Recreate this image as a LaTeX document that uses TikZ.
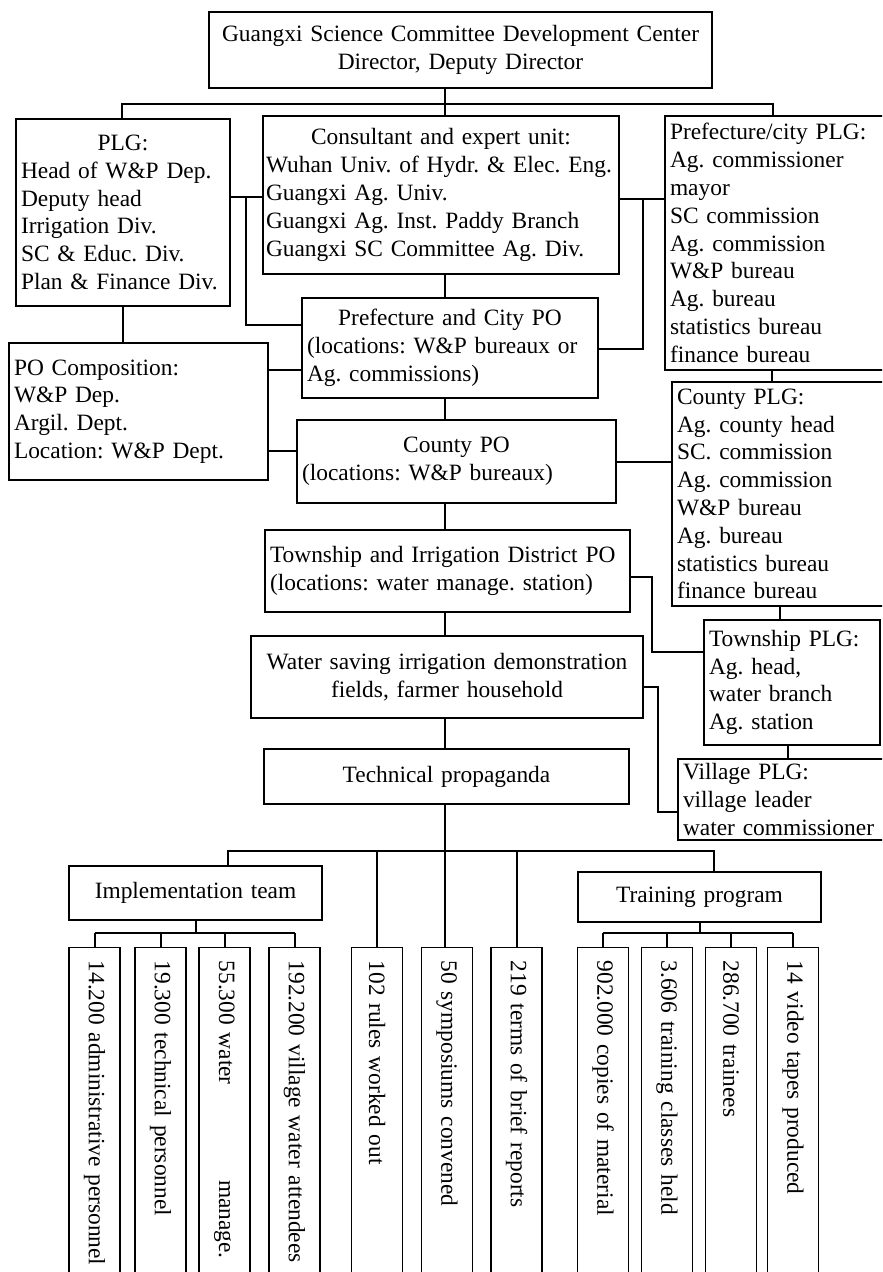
\documentclass[tikz,border=0pt]{standalone}
\usepackage{fontspec}
\setmainfont{Liberation Serif}
\usepackage{tikz}
\frenchspacing

\begin{document}
\begin{tikzpicture}[x=0.5pt,y=-0.5pt,font=\fontsize{11.7pt}{13.9pt}\selectfont,
    box/.style={draw,line width=.6pt,inner xsep=2.5pt,inner ysep=0pt},
    vbox/.style={box,rotate=-90,anchor=west,minimum height=25.5pt,inner xsep=6.5pt,text width=162pt,align=left},
    tie/.style={line width=.6pt},bus/.style={line width=1pt}]
    \useasboundingbox (0,0) rectangle (882,1272);
    \clip (0,0) rectangle (882,1272);
    % main column
    \node[box,text width=246.5pt,minimum height=38pt,align=center] (top) at (460.5,50)
        {Guangxi Science Committee Development Center\\Director, Deputy Director};
    \node[box,text width=102pt,minimum height=93.5pt,align=left] (plg) at (123,212.5)
        {\makebox[\hsize]{PLG:}\\Head of W\&P Dep.\\Deputy head\\Irrigation Div.\\SC \& Educ. Div.\\Plan \& Finance Div.};
    \node[box,inner xsep=1.5pt,text width=175pt,minimum height=79pt,align=left] (expert) at (441,195)
        {\makebox[\hsize]{Consultant and expert unit:}\\Wuhan Univ. of Hydr. \& Elec. Eng.\\Guangxi Ag. Univ.\\Guangxi Ag. Inst. Paddy Branch\\Guangxi SC Committee Ag. Div.};
    \node[box,text width=115pt,minimum height=127pt,align=left] (cityplg) at (785,243)
        {Prefecture/city PLG:\\Ag. commissioner\\mayor\\SC commission\\Ag. commission\\W\&P bureau\\Ag. bureau\\statistics bureau\\finance bureau};
    \node[box,text width=143pt,minimum height=50pt,align=left] (citypo) at (450,348)
        {\makebox[\hsize]{Prefecture and City PO}\\(locations: W\&P bureaux or\\Ag. commissions)};
    \node[box,text width=124.5pt,minimum height=68.5pt,align=left] (pocomp) at (138.5,411.5)
        {PO Composition:\\W\&P Dep.\\Argil. Dept.\\Location: W\&P Dept.\\};
    \node[box,text width=154.5pt,minimum height=41.5pt,align=left] (countypo) at (456.5,461.5)
        {\makebox[\hsize]{County PO}\\(locations: W\&P bureaux)};
    \node[box,text width=111.5pt,minimum height=112pt,align=left] (countyplg) at (788.5,494)
        {County PLG:\\Ag. county head\\SC. commission\\Ag. commission\\W\&P bureau\\Ag. bureau\\statistics bureau\\finance bureau};
    \node[box,text width=177.5pt,minimum height=41pt,align=left] (townpo) at (447.5,571)
        {Township and Irrigation District PO\\(locations: water manage. station)};
    \node[box,text width=83pt,minimum height=62.5pt,align=left] (townplg) at (792,682.5)
        {Township PLG:\\Ag. head,\\water branch\\Ag. station};
    \node[box,text width=191pt,minimum height=41pt,align=center] (demo) at (447,677)
        {Water saving irrigation demonstration\\fields, farmer household};
    \node[box,text width=108.5pt,minimum height=40.5pt,align=left] (villplg) at (791.5,799.5)
        {Village PLG:\\village leader\\water commissioner};
    \node[box,text width=177.5pt,minimum height=27.5pt,align=center] (tech) at (446.5,776.5) {Technical propaganda};
    \node[box,text width=121.5pt,minimum height=27pt,align=center] (impl) at (195.5,893) {Implementation team};
    \node[box,text width=116.5pt,minimum height=25pt,align=center] (train) at (699.5,897) {Training program};
    \foreach \n/\x/\txt in {1/94.5/{14.200 administrative personnel},2/160.5/{19.300 technical personnel},
        3/224.5/{\makebox[149pt][l]{55.300 water\hfill manage.}},4/294.5/{192.200 village water attendees},
        5/377/{102 rules worked out},6/447/{50 symposiums convened},7/516.5/{219 terms of brief reports},
        8/603/{902.000 copies of material},9/667/{3.606 training classes held},10/731/{286.700 trainees},
        11/793/{14 video tapes produced}}
        \node[vbox] (b\n) at (\x,947) {\txt};
    % spine
    \coordinate (sp) at (445,0);
    \draw[tie] (top.south -| sp) -- (expert.north -| sp);
    \draw[tie] (expert.south -| sp) -- (citypo.north -| sp);
    \draw[tie] (citypo.south -| sp) -- (countypo.north -| sp);
    \draw[tie] (countypo.south -| sp) -- (townpo.north -| sp);
    \draw[tie] (townpo.south -| sp) -- (demo.north -| sp);
    \draw[tie] (demo.south -| sp) -- (tech.north -| sp);
    \draw[tie] (tech.south -| sp) -- (b6.west -| sp);
    % upper branches
    \coordinate (tl) at (122,104); \coordinate (tr) at (773,104);
    \draw[bus] (plg.north -| tl) -- (tl) -- (tr) -- (cityplg.north -| tr);
    \coordinate (a1) at (246,197); \coordinate (a2) at (246,325);
    \draw[bus] (plg.east |- a1) -- (expert.west |- a1);
    \draw[bus] (a1) -- (a2) -- (citypo.west |- a2);
    \coordinate (a3) at (643,199); \coordinate (a4) at (643,349);
    \draw[bus] (expert.east |- a3) -- (cityplg.west |- a3);
    \draw[bus] (a3) -- (a4) -- (citypo.east |- a4);
    \draw[tie] (plg.south) -- (plg.south |- pocomp.north);
    \coordinate (a5) at (285,370); \coordinate (a6) at (285,451);
    \draw[bus] (pocomp.east |- a5) -- (citypo.west |- a5);
    \draw[bus] (pocomp.east |- a6) -- (countypo.west |- a6);
    \draw[bus] (countypo.east) -- (countyplg.west |- countypo.east);
    \coordinate (a7) at (772,0); \coordinate (a8) at (780,0); \coordinate (a9) at (788,0);
    \draw[bus] (cityplg.south -| a7) -- (countyplg.north -| a7);
    \draw[bus] (countyplg.south -| a8) -- (townplg.north -| a8);
    \draw[bus] (townplg.south -| a9) -- (villplg.north -| a9);
    \coordinate (c1) at (652,577); \coordinate (c2) at (652,652);
    \draw[bus] (townpo.east |- c1) -- (c1) -- (c2) -- (townplg.west |- c2);
    \coordinate (c3) at (658,687); \coordinate (c4) at (658,812);
    \draw[bus] (demo.east |- c3) -- (c3) -- (c4) -- (villplg.west |- c4);
    % lower branches
    \coordinate (d1) at (228,851); \coordinate (d2) at (714,851);
    \draw[bus] (impl.north -| d1) -- (d1) -- (d2) -- (train.north -| d2);
    \draw[bus] (b5.west |- d1) -- (b5.west);
    \draw[bus] (b7.west |- d1) -- (b7.west);
    \coordinate (e1) at (0,933);
    \draw[bus] (impl.south) -- (impl.south |- e1);
    \draw[bus] (b1.west |- e1) -- (b4.west |- e1);
    \draw[bus] (train.south) -- (train.south |- e1);
    \draw[bus] (b8.west |- e1) -- (b11.west |- e1);
    \foreach \n in {1,2,3,4,8,9,10,11}
        \draw[bus] (b\n.west |- e1) -- (b\n.west);
\end{tikzpicture}
\end{document}
